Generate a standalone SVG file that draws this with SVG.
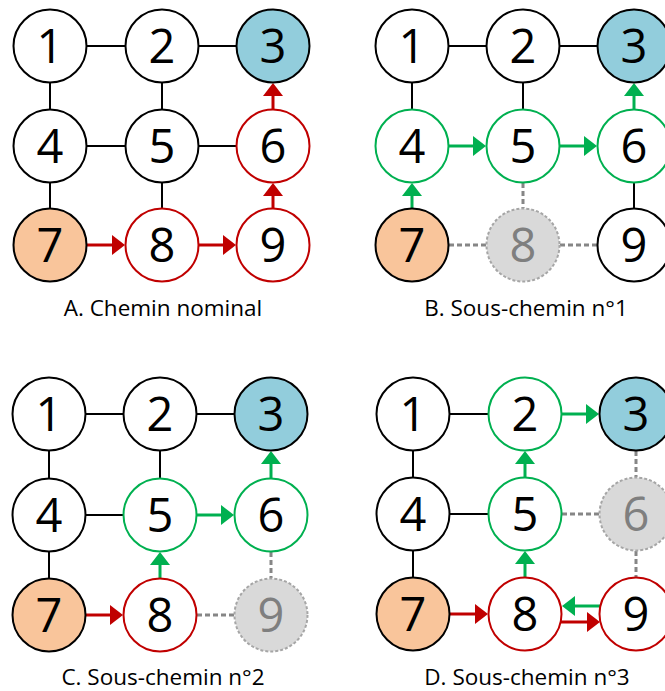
<svg xmlns="http://www.w3.org/2000/svg" width="665" height="691" viewBox="0 0 665 691">
<defs>
<marker id="hr" viewBox="0 0 13 20" refX="0" refY="10" markerWidth="13" markerHeight="20" markerUnits="userSpaceOnUse" orient="auto"><path d="M0,0 L13,10 L0,20 Z" fill="#C00000"/></marker>
<marker id="hg" viewBox="0 0 13 20" refX="0" refY="10" markerWidth="13" markerHeight="20" markerUnits="userSpaceOnUse" orient="auto"><path d="M0,0 L13,10 L0,20 Z" fill="#00B050"/></marker>
</defs>
<style>
.n circle{fill:#fff;stroke:#000;stroke-width:2}
.n.red circle{stroke:#C00000}
.n.green circle{stroke:#00B050}
.n.start circle{fill:#F9C59B}
.n.goal circle{fill:#92CDDC}
.n.gone circle{fill:#D9D9D9;stroke:#A6A6A6;stroke-dasharray:3 2}
.n text{font-family:"Open Sans","Liberation Sans",sans-serif;font-size:47px;text-anchor:middle;fill:#000}
.n.gone text{fill:#7F7F7F}
.e{stroke:#000;stroke-width:2;fill:none}
.d{stroke:#868686;stroke-width:3;stroke-dasharray:5 3;fill:none}
.ar{stroke:#C00000;stroke-width:3;fill:none;marker-end:url(#hr)}
.ag{stroke:#00B050;stroke-width:3;fill:none;marker-end:url(#hg)}
.lbl{font-family:"Open Sans","Liberation Sans",sans-serif;font-size:22.5px;text-anchor:middle;fill:#000}
</style>

<!-- Panel A -->
<g id="panelA">
<g id="A-connectors">
<line class="e" x1="87" y1="46" x2="125" y2="46"/>
<line class="e" x1="199" y1="46" x2="236" y2="46"/>
<line class="e" x1="50" y1="83" x2="50" y2="109"/>
<line class="e" x1="162" y1="83" x2="162" y2="109"/>
<line class="e" x1="87" y1="146" x2="125" y2="146"/>
<line class="e" x1="199" y1="146" x2="236" y2="146"/>
<line class="e" x1="50" y1="183" x2="50" y2="208"/>
<line class="e" x1="162" y1="183" x2="162" y2="208"/>
<line class="ar" x1="87" y1="245" x2="112" y2="245"/>
<line class="ar" x1="199" y1="245" x2="223" y2="245"/>
<line class="ar" x1="273" y1="208" x2="273" y2="196"/>
<line class="ar" x1="273" y1="109" x2="273" y2="96"/>
</g>
<g id="A-n1" class="n"><circle cx="50" cy="46" r="36.5"/><text x="50" y="62.5">1</text></g>
<g id="A-n2" class="n"><circle cx="162" cy="46" r="36.5"/><text x="162" y="62.5">2</text></g>
<g id="A-n3" class="n goal"><circle cx="273" cy="46" r="36.5"/><text x="273" y="62.5">3</text></g>
<g id="A-n4" class="n"><circle cx="50" cy="146" r="36.5"/><text x="50" y="162.5">4</text></g>
<g id="A-n5" class="n"><circle cx="162" cy="146" r="36.5"/><text x="162" y="162.5">5</text></g>
<g id="A-n6" class="n red"><circle cx="273" cy="146" r="36.5"/><text x="273" y="162.5">6</text></g>
<g id="A-n7" class="n start"><circle cx="50" cy="245" r="36.5"/><text x="50" y="261.5">7</text></g>
<g id="A-n8" class="n red"><circle cx="162" cy="245" r="36.5"/><text x="162" y="261.5">8</text></g>
<g id="A-n9" class="n red"><circle cx="273" cy="245" r="36.5"/><text x="273" y="261.5">9</text></g>
<text class="lbl" x="163" y="316">A. Chemin nominal</text>
</g>

<!-- Panel B -->
<g id="panelB">
<g id="B-connectors">
<line class="e" x1="449" y1="46" x2="486" y2="46"/>
<line class="e" x1="560" y1="46" x2="597" y2="46"/>
<line class="e" x1="412" y1="83" x2="412" y2="109"/>
<line class="e" x1="523" y1="83" x2="523" y2="109"/>
<line class="e" x1="634" y1="183" x2="634" y2="208"/>
<line class="d" x1="449" y1="245" x2="486" y2="245"/>
<line class="d" x1="560" y1="245" x2="597" y2="245"/>
<line class="d" x1="523" y1="183" x2="523" y2="208"/>
<line class="ag" x1="412" y1="208" x2="412" y2="196"/>
<line class="ag" x1="449" y1="146" x2="473" y2="146"/>
<line class="ag" x1="560" y1="146" x2="584" y2="146"/>
<line class="ag" x1="634" y1="109" x2="634" y2="96"/>
</g>
<g id="B-n1" class="n"><circle cx="412" cy="46" r="36.5"/><text x="412" y="62.5">1</text></g>
<g id="B-n2" class="n"><circle cx="523" cy="46" r="36.5"/><text x="523" y="62.5">2</text></g>
<g id="B-n3" class="n goal"><circle cx="634" cy="46" r="36.5"/><text x="634" y="62.5">3</text></g>
<g id="B-n4" class="n green"><circle cx="412" cy="146" r="36.5"/><text x="412" y="162.5">4</text></g>
<g id="B-n5" class="n green"><circle cx="523" cy="146" r="36.5"/><text x="523" y="162.5">5</text></g>
<g id="B-n6" class="n green"><circle cx="634" cy="146" r="36.5"/><text x="634" y="162.5">6</text></g>
<g id="B-n7" class="n start"><circle cx="412" cy="245" r="36.5"/><text x="412" y="261.5">7</text></g>
<g id="B-n8" class="n gone"><circle cx="523" cy="245" r="36.5"/><text x="523" y="261.5">8</text></g>
<g id="B-n9" class="n"><circle cx="634" cy="245" r="36.5"/><text x="634" y="261.5">9</text></g>
<text class="lbl" x="526" y="316">B. Sous-chemin n°1</text>
</g>

<!-- Panel C -->
<g id="panelC">
<g id="C-connectors">
<line class="e" x1="86" y1="414" x2="123" y2="414"/>
<line class="e" x1="197" y1="414" x2="234" y2="414"/>
<line class="e" x1="49" y1="451" x2="49" y2="478"/>
<line class="e" x1="160" y1="451" x2="160" y2="478"/>
<line class="e" x1="86" y1="515" x2="123" y2="515"/>
<line class="e" x1="49" y1="552" x2="49" y2="578"/>
<line class="d" x1="197" y1="615" x2="234" y2="615"/>
<line class="d" x1="271" y1="552" x2="271" y2="578"/>
<line class="ar" x1="86" y1="615" x2="110" y2="615"/>
<line class="ag" x1="160" y1="578" x2="160" y2="565"/>
<line class="ag" x1="197" y1="515" x2="221" y2="515"/>
<line class="ag" x1="271" y1="478" x2="271" y2="464"/>
</g>
<g id="C-n1" class="n"><circle cx="49" cy="414" r="36.5"/><text x="49" y="430.5">1</text></g>
<g id="C-n2" class="n"><circle cx="160" cy="414" r="36.5"/><text x="160" y="430.5">2</text></g>
<g id="C-n3" class="n goal"><circle cx="271" cy="414" r="36.5"/><text x="271" y="430.5">3</text></g>
<g id="C-n4" class="n"><circle cx="49" cy="515" r="36.5"/><text x="49" y="531.5">4</text></g>
<g id="C-n5" class="n green"><circle cx="160" cy="515" r="36.5"/><text x="160" y="531.5">5</text></g>
<g id="C-n6" class="n green"><circle cx="271" cy="515" r="36.5"/><text x="271" y="531.5">6</text></g>
<g id="C-n7" class="n start"><circle cx="49" cy="615" r="36.5"/><text x="49" y="631.5">7</text></g>
<g id="C-n8" class="n red"><circle cx="160" cy="615" r="36.5"/><text x="160" y="631.5">8</text></g>
<g id="C-n9" class="n gone"><circle cx="271" cy="615" r="36.5"/><text x="271" y="631.5">9</text></g>
<text class="lbl" x="163" y="685">C. Sous-chemin n°2</text>
</g>

<!-- Panel D -->
<g id="panelD">
<g id="D-connectors">
<line class="e" x1="450" y1="414" x2="488" y2="414"/>
<line class="e" x1="413" y1="451" x2="413" y2="477"/>
<line class="e" x1="450" y1="514" x2="488" y2="514"/>
<line class="e" x1="413" y1="551" x2="413" y2="577"/>
<line class="d" x1="636" y1="451" x2="636" y2="477"/>
<line class="d" x1="562" y1="514" x2="599" y2="514"/>
<line class="d" x1="636" y1="551" x2="636" y2="577"/>
<line class="ag" x1="562" y1="414" x2="586" y2="414"/>
<line class="ag" x1="525" y1="477" x2="525" y2="464"/>
<line class="ag" x1="525" y1="577" x2="525" y2="564"/>
<line class="ar" x1="450" y1="614" x2="475" y2="614"/>
<line class="ar" x1="561" y1="622" x2="587" y2="622"/>
<line class="ag" x1="600" y1="606" x2="575" y2="606"/>
</g>
<g id="D-n1" class="n"><circle cx="413" cy="414" r="36.5"/><text x="413" y="430.5">1</text></g>
<g id="D-n2" class="n green"><circle cx="525" cy="414" r="36.5"/><text x="525" y="430.5">2</text></g>
<g id="D-n3" class="n goal"><circle cx="636" cy="414" r="36.5"/><text x="636" y="430.5">3</text></g>
<g id="D-n4" class="n"><circle cx="413" cy="514" r="36.5"/><text x="413" y="530.5">4</text></g>
<g id="D-n5" class="n green"><circle cx="525" cy="514" r="36.5"/><text x="525" y="530.5">5</text></g>
<g id="D-n6" class="n gone"><circle cx="636" cy="514" r="36.5"/><text x="636" y="530.5">6</text></g>
<g id="D-n7" class="n start"><circle cx="413" cy="614" r="36.5"/><text x="413" y="630.5">7</text></g>
<g id="D-n8" class="n red"><circle cx="525" cy="614" r="36.5"/><text x="525" y="630.5">8</text></g>
<g id="D-n9" class="n red"><circle cx="636" cy="614" r="36.5"/><text x="636" y="630.5">9</text></g>
<text class="lbl" x="527" y="685">D. Sous-chemin n°3</text>
</g>
</svg>
